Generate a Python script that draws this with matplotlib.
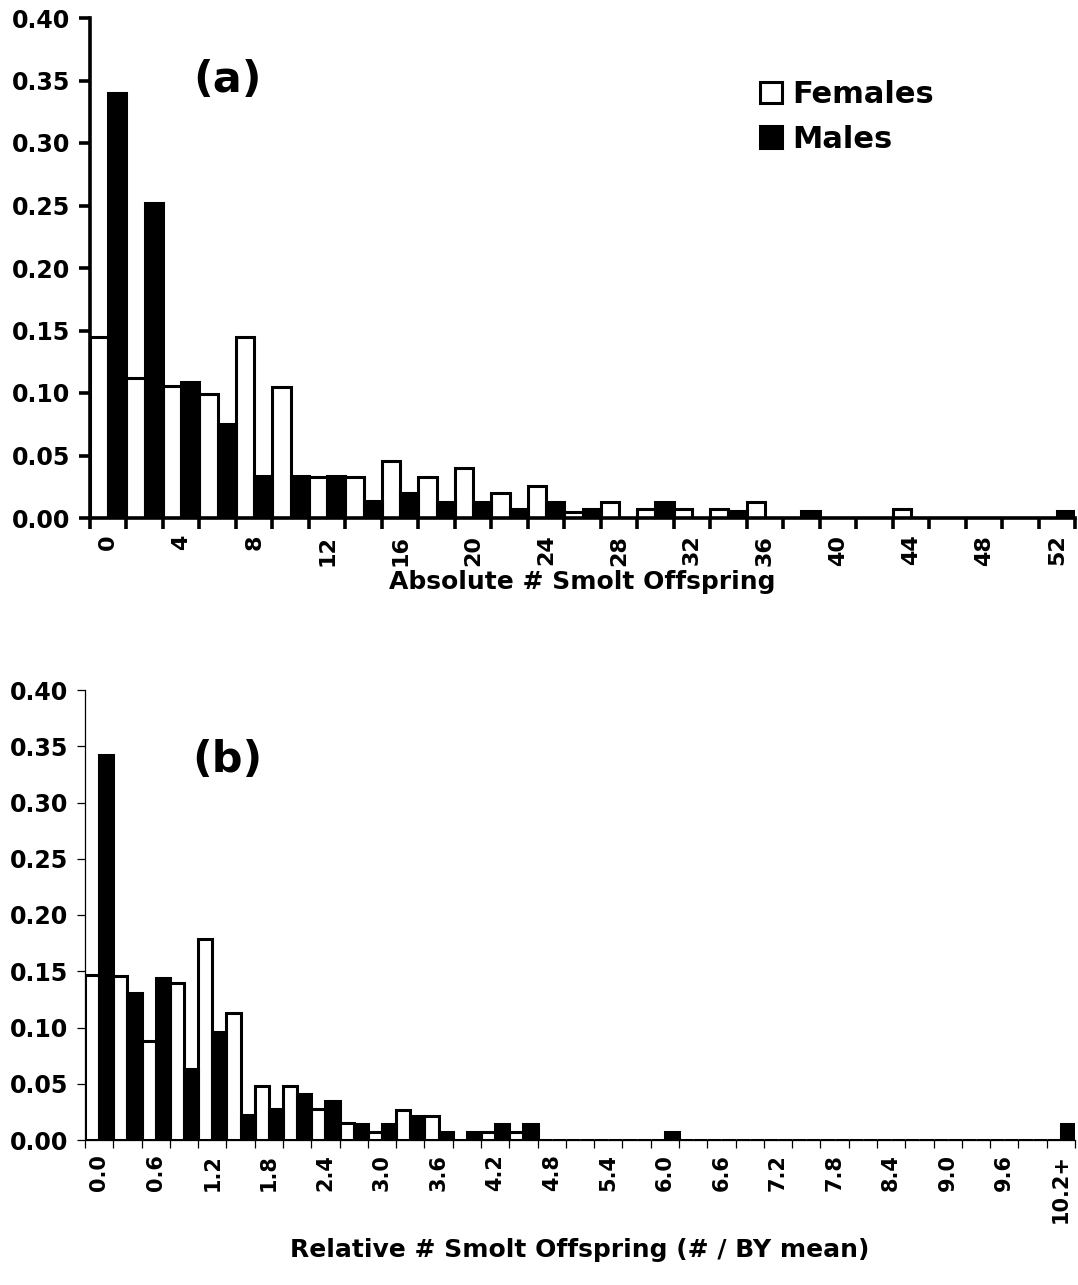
import numpy as np
import matplotlib
matplotlib.use("Agg")
import matplotlib.pyplot as plt
from matplotlib.patches import Patch

plt.rcParams['font.family'] = ['DejaVu Sans']
plt.rcParams['font.weight'] = 'bold'

###############################################################################
# data (proportion of parents per offspring bin)
###############################################################################
abs_bins = [0, 2, 4, 6, 8, 10, 12, 14, 16, 18, 20, 22, 24, 26, 28, 30, 32, 34,
            36, 38, 40, 42, 44, 46, 48, 50, 52]
females_abs = [0.145, 0.112, 0.106, 0.099, 0.145, 0.105, 0.033, 0.033, 0.046,
               0.033, 0.040, 0.020, 0.026, 0.005, 0.013, 0.007, 0.007, 0.007,
               0.013, 0.0, 0.0, 0.0, 0.007, 0.0, 0.0, 0.0, 0.0]
males_abs = [0.340, 0.252, 0.109, 0.075, 0.034, 0.034, 0.034, 0.014, 0.020,
             0.013, 0.013, 0.007, 0.013, 0.007, 0.0, 0.013, 0.0, 0.006,
             0.0, 0.006, 0.0, 0.0, 0.0, 0.0, 0.0, 0.0, 0.006]

rel_bins = ["0.0", "0.3", "0.6", "0.9", "1.2", "1.5", "1.8", "2.1", "2.4", "2.7",
            "3.0", "3.3", "3.6", "3.9", "4.2", "4.5", "4.8", "5.1", "5.4", "5.7",
            "6.0", "6.3", "6.6", "6.9", "7.2", "7.5", "7.8", "8.1", "8.4", "8.7",
            "9.0", "9.3", "9.6", "9.9", "10.2+"]
females_rel = [0.147, 0.146, 0.088, 0.140, 0.179, 0.113, 0.048, 0.048, 0.028,
               0.015, 0.007, 0.027, 0.021, 0.0, 0.007, 0.007, 0.0, 0.0, 0.0,
               0.0, 0.0, 0.0, 0.0, 0.0, 0.0, 0.0, 0.0, 0.0, 0.0, 0.0, 0.0,
               0.0, 0.0, 0.0, 0.0]
males_rel = [0.342, 0.131, 0.144, 0.063, 0.096, 0.022, 0.028, 0.041, 0.035,
             0.014, 0.014, 0.021, 0.007, 0.007, 0.014, 0.014, 0.0, 0.0, 0.0,
             0.0, 0.007, 0.0, 0.0, 0.0, 0.0, 0.0, 0.0, 0.0, 0.0, 0.0, 0.0,
             0.0, 0.0, 0.0, 0.014]

yticks = [0.0, 0.05, 0.10, 0.15, 0.20, 0.25, 0.30, 0.35, 0.40]

###############################################################################
def draw_panel(ax, fem, mal, labels, lw_axis, tick_len, edge_lw, xfs):
    n = len(fem)
    x = np.arange(n)
    ax.bar(x - 0.25, fem, width=0.5, color="white", edgecolor="black",
           linewidth=edge_lw, zorder=2)
    ax.bar(x + 0.25, mal, width=0.5, color="black", edgecolor="black",
           linewidth=edge_lw, zorder=3)
    ax.set_xlim(-0.5, n - 0.5)
    ax.set_ylim(0, 0.40)
    for s in ["top", "right"]:
        ax.spines[s].set_visible(False)
    for s in ["left", "bottom"]:
        ax.spines[s].set_linewidth(lw_axis)
        ax.spines[s].set_zorder(5)
    # ticks at the category edges, labels on every other category
    ax.set_xticks(np.arange(n + 1) - 0.5)
    ax.set_xticklabels([])
    ax.set_xticks(x[::2], labels, minor=True, rotation=90, fontsize=xfs,
                  fontweight="bold")
    ax.tick_params(axis="x", which="major", direction="out", length=tick_len,
                   width=lw_axis)
    ax.tick_params(axis="x", which="minor", length=0, pad=tick_len + 4)
    ax.set_yticks(yticks)
    ax.set_yticklabels(["%.2f" % v for v in yticks], fontsize=17,
                       fontweight="bold")
    ax.tick_params(axis="y", direction="out", length=tick_len, width=lw_axis,
                   pad=6)


fig = plt.figure(figsize=(10.78, 12.85), dpi=100)
axA = fig.add_axes([90 / 1078, 1 - 518 / 1285, 985 / 1078, 500 / 1285])
axB = fig.add_axes([85 / 1078, 1 - 1140 / 1285, 990 / 1078, 450 / 1285])

draw_panel(axA, females_abs, males_abs, [str(b) for b in abs_bins[::2]],
           2.6, 8, 2.2, 16)
draw_panel(axB, females_rel, males_rel, rel_bins[::2], 0.9, 6, 2.2, 15)

axA.set_xlabel("Absolute # Smolt Offspring", fontsize=18, fontweight="bold",
               labelpad=3)
axB.set_xlabel("Relative # Smolt Offspring (# / BY mean)", fontsize=18,
               fontweight="bold")
axB.xaxis.set_label_coords(0.5, (1140 - 1250) / 450)
axB.xaxis.label.set_va("center")

axA.text(0.105, 0.876, "(a)", transform=axA.transAxes, fontsize=31,
         fontweight="bold", va="center")
axB.text(0.108, 0.845, "(b)", transform=axB.transAxes, fontsize=31,
         fontweight="bold", va="center")

handles = [Patch(facecolor="white", edgecolor="black", linewidth=2.2),
           Patch(facecolor="black", edgecolor="black", linewidth=2.2)]
axA.legend(handles, ["Females", "Males"], loc="upper left",
           bbox_to_anchor=(0.668, 0.9), frameon=False, fontsize=22,
           handlelength=0.7, handleheight=0.7, handletextpad=0.35,
           labelspacing=0.5, borderaxespad=0)

fig.savefig("out.png", dpi=100)
